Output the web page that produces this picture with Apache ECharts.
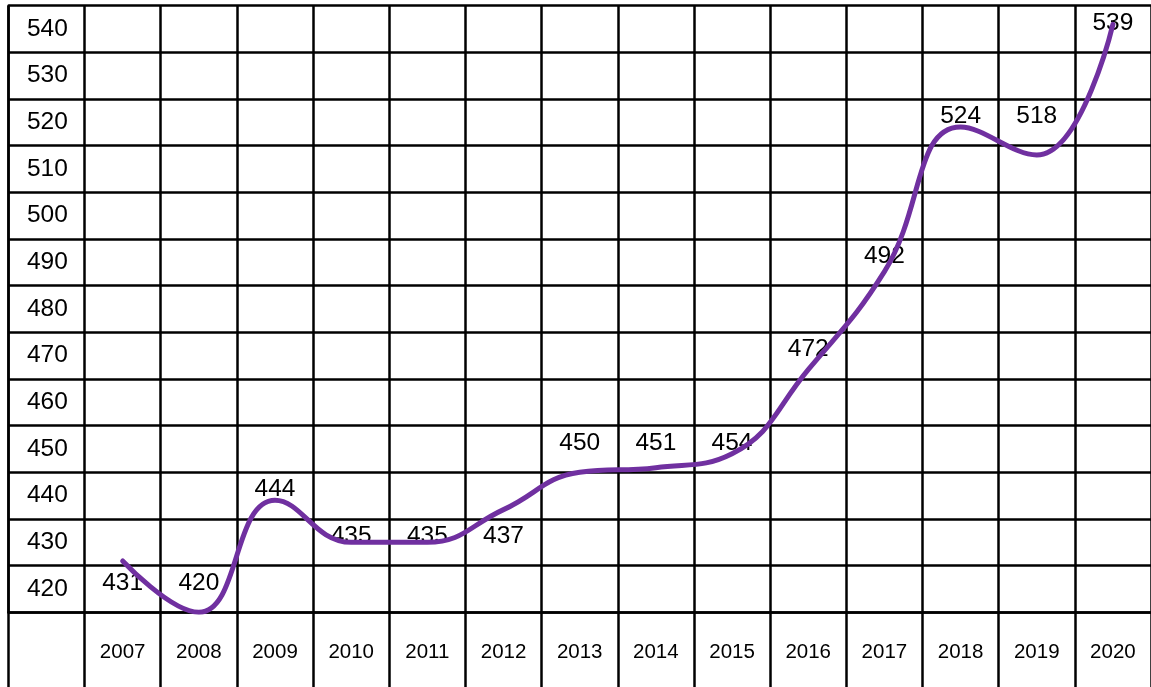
<!DOCTYPE html>
<html>
<head>
<meta charset="utf-8">
<script src="https://cdn.jsdelivr.net/npm/echarts@6/dist/echarts.min.js"></script>
<style>
  html, body { margin: 0; padding: 0; background: #ffffff; }
  #chart { width: 1151px; height: 687px; }
</style>
</head>
<body>
<div id="chart"></div>
<script>
  // table columns and rows
  var years = ['2007', '2008', '2009', '2010', '2011', '2012', '2013', '2014', '2015', '2016', '2017', '2018', '2019', '2020'];
  var rowLabels = ['420', '430', '440', '450', '460', '470', '480', '490', '500', '510', '520', '530', '540'];

  // the numbers written in the cells, and the row each one sits in
  var cellValues = [431, 420, 444, 435, 435, 437, 450, 451, 454, 472, 492, 524, 518, 539];
  var cellRows = ['420', '420', '440', '430', '430', '430', '450', '450', '450', '470', '490', '520', '520', '540'];

  // the purple curve, read against the row lines (420 at the bottom line, 550 at the top)
  var curveValues = [431, 420, 444, 435, 435, 442, 450, 451, 454, 472, 493, 524, 518, 546];

  var columns = [''].concat(years);
  var lineBlack = '#000000';

  var cellData = years.map(function (y, i) {
    return [y, cellRows[i], cellValues[i]];
  });
  var curveData = ['-'].concat(curveValues);

  var chart = echarts.init(document.getElementById('chart'));
  chart.setOption({
    animation: false,
    backgroundColor: '#ffffff',
    grid: [
      { left: 8.4, top: 5.7, width: 1149, height: 606.6 },
      { left: 8.4, top: 612.3, width: 1149, height: 120 }
    ],
    xAxis: [
      {
        type: 'category',
        gridIndex: 0,
        data: columns,
        boundaryGap: true,
        axisLine: { show: true, lineStyle: { color: lineBlack, width: 2.5 } },
        axisTick: { show: false },
        splitLine: { show: true, interval: 0, lineStyle: { color: lineBlack, width: 2.5 } },
        axisLabel: {
          interval: 0,
          margin: 30,
          fontFamily: 'Liberation Sans',
          fontSize: 20.5,
          color: '#000000'
        }
      },
      {
        type: 'category',
        gridIndex: 1,
        data: columns,
        boundaryGap: true,
        axisLine: { show: false },
        axisTick: { show: false },
        axisLabel: { show: false },
        splitLine: { show: true, interval: 0, lineStyle: { color: lineBlack, width: 2.5 } }
      }
    ],
    yAxis: [
      {
        type: 'category',
        gridIndex: 0,
        data: rowLabels,
        boundaryGap: true,
        axisLine: { show: true, lineStyle: { color: lineBlack, width: 2.5 } },
        axisTick: { show: false },
        splitLine: { show: true, interval: 0, lineStyle: { color: lineBlack, width: 2.5 } },
        axisLabel: {
          inside: true,
          interval: 0,
          margin: 39,
          align: 'center',
          padding: [0, 0, 8, 0],
          fontFamily: 'Liberation Sans',
          fontSize: 24.5,
          color: '#000000'
        }
      },
      {
        type: 'value',
        gridIndex: 0,
        min: 420,
        max: 550,
        show: false
      },
      {
        type: 'value',
        gridIndex: 1,
        show: false
      }
    ],
    series: [
      {
        type: 'scatter',
        xAxisIndex: 0,
        yAxisIndex: 0,
        z: 1,
        symbolSize: 0,
        itemStyle: { opacity: 1 },
        data: cellData,
        label: {
          show: true,
          position: 'inside',
          offset: [0, -6],
          formatter: function (p) { return p.value[2]; },
          fontFamily: 'Liberation Sans',
          fontSize: 24.5,
          color: '#000000',
          opacity: 1,
          textBorderWidth: 0
        }
      },
      {
        type: 'line',
        xAxisIndex: 0,
        yAxisIndex: 1,
        z: 5,
        smooth: 0.45,
        showSymbol: false,
        data: curveData,
        lineStyle: { color: '#7030A0', width: 5, cap: 'round' }
      }
    ]
  });
</script>
</body>
</html>
